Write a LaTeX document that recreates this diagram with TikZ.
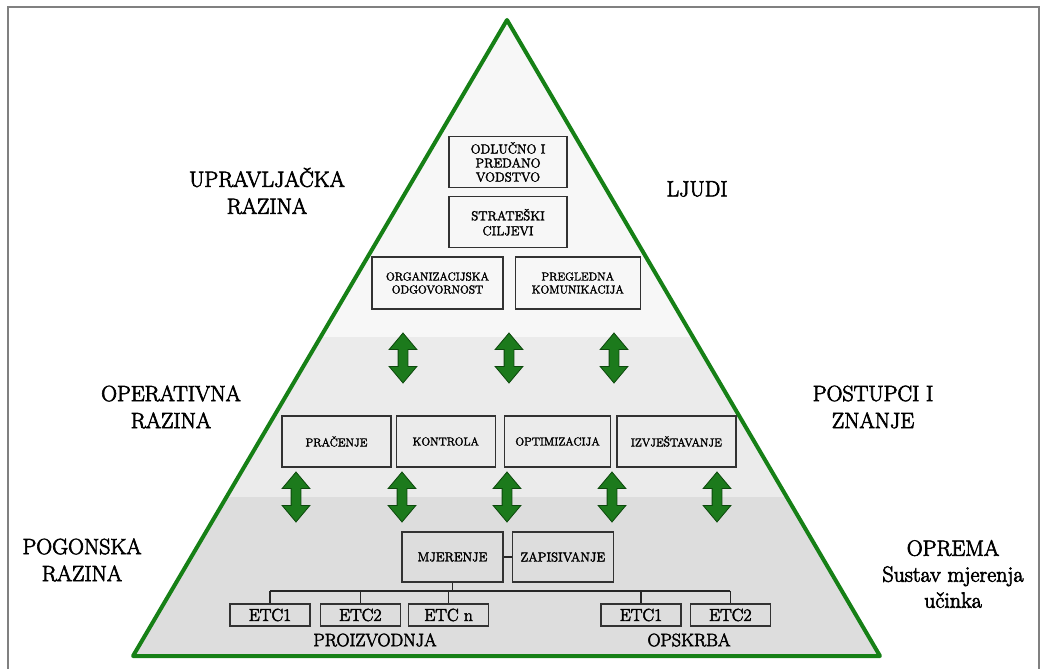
\documentclass[tikz,border=0pt]{standalone}
\usepackage{fontspec}
\newfontfamily\tezak{Latin Modern Roman}[FakeBold=3]
\newfontfamily\srednji{Latin Modern Roman}[FakeBold=2.5]
\usepackage{tikz}
\usetikzlibrary{positioning}
\usetikzlibrary{shapes.arrows}

\definecolor{zelena}{RGB}{22,128,22}
\definecolor{strelzel}{RGB}{28,122,28}
\definecolor{tamnozel}{RGB}{12,72,12}
\definecolor{okvir}{RGB}{128,128,128}
\definecolor{pojas1}{RGB}{247,247,247}
\definecolor{pojas2}{RGB}{235,235,235}
\definecolor{pojas3}{RGB}{221,221,221}
\definecolor{rub}{RGB}{50,50,50}

\tikzset{x=1pt, y=-1pt, % one unit is one pixel, y runs downwards
kutija/.style={ % boxes inside the pyramid
draw=rub, line width=1.3pt,
align=center, inner sep=0pt,
font=\srednji\fontsize{11.5}{13}\selectfont},
etc/.style={ % small boxes of the bottom row
kutija, minimum width=80pt, minimum height=22pt,
font=\tezak\fontsize{17.5}{18}\selectfont},
razina/.style={ % labels beside the pyramid
align=center,
font=\tezak\fontsize{22}{27}\selectfont},
strelica/.style={ % green double arrows between levels
double arrow, rotate=90,
draw=tamnozel, fill=strelzel, line width=0.8pt,
minimum height=50pt, minimum width=27pt,
double arrow head extend=9pt, double arrow tip angle=80,
inner xsep=0pt, inner ysep=4.5pt},
veza/.style={ % thin connectors
draw=black!85, line width=1.2pt}}

\begin{document}
\begin{tikzpicture}
\useasboundingbox (0,0) rectangle (1041,669);
\clip (0,0) rectangle (1041,669);
\draw[okvir, line width=2pt] (8,7) rectangle (1039,700);

% pyramid with three bands
\coordinate (vrh) at (507,20);
\coordinate (lijevo) at (133,656);
\coordinate (desno) at (880,656);
\begin{scope}
\clip (vrh) -- (lijevo) -- (desno) -- cycle;
\fill[pojas1] (0,0) rectangle (1041,337);
\fill[pojas2] (0,337) rectangle (1041,497);
\fill[pojas3] (0,497) rectangle (1041,669);
\end{scope}
\draw[zelena, line width=4pt, line join=round] (vrh) -- (lijevo) -- (desno) -- cycle;

% labels
\node[razina] (upr) at (267,191) {UPRAVLJAČKA\\RAZINA};
\node[razina] (oper) at (171,407) {OPERATIVNA\\RAZINA};
\node[razina] (pog) at (82,560) {POGONSKA\\RAZINA};
\node[razina] (ljudi) at (697,189) {LJUDI};
\node[razina] (post) at (873,407) {POSTUPCI I\\ZNANJE};
\node[razina, font=\tezak\fontsize{22}{26}\selectfont] (opr) at (953,574) {OPREMA\\Sustav mjerenja\\učinka};

% top level
\node[kutija, minimum width=118pt, minimum height=51pt, font=\srednji\fontsize{13}{14}\selectfont] (odl) at (508,162) {ODLUČNO I\\PREDANO\\VODSTVO};
\node[kutija, minimum width=118pt, minimum height=51pt, font=\srednji\fontsize{13}{15}\selectfont, below=8pt of odl] (strat) {STRATEŠKI\\CILJEVI};
\node[kutija, minimum width=131pt, minimum height=52pt] (org) at (437.5,283) {ORGANIZACIJSKA\\ODGOVORNOST};
\node[kutija, minimum width=125pt, minimum height=52pt, right=11pt of org] (preg) {PREGLEDNA\\KOMUNIKACIJA};

% operative level
\node[kutija, minimum width=109pt, minimum height=51pt] (prac) at (336.5,441.5) {PRAČENJE};
\node[kutija, minimum width=99pt, minimum height=51pt, right=4pt of prac] (kont) {KONTROLA};
\node[kutija, minimum width=106pt, minimum height=51pt, right=8pt of kont] (opt) {OPTIMIZACIJA};
\node[kutija, minimum width=119pt, minimum height=51pt, right=5pt of opt] (izv) {IZVJEŠTAVANJE};

% plant level
\node[kutija, minimum width=101pt, minimum height=50pt, font=\srednji\fontsize{13}{14}\selectfont] (mjer) at (452.5,557) {MJERENJE};
\node[kutija, minimum width=101pt, minimum height=50pt, font=\srednji\fontsize{13}{14}\selectfont, right=8pt of mjer] (zap) {ZAPISIVANJE};
\draw[veza] (mjer) -- (zap);

\node[etc] (p1) at (270,615) {ETC1};
\node[etc, right=9pt of p1] (p2) {ETC2};
\node[etc, right=7pt of p2] (pn) {ETC n};
\node[etc] (o1) at (641,615) {ETC1};
\node[etc, right=8pt of o1] (o2) {ETC2};
\node[font=\tezak\fontsize{18}{20}\selectfont] (proiz) at (375,640) {PROIZVODNJA};
\node[font=\tezak\fontsize{18}{20}\selectfont] (opskrba) at (689,640) {OPSKRBA};

\coordinate (sabirnica) at (0,591);
\draw[veza] (mjer.south) -- (mjer.south |- sabirnica);
\draw[veza] (p1.north |- sabirnica) -- (o2.north |- sabirnica);
\foreach \k in {p1,p2,pn,o1,o2}
  \draw[veza] (\k.north |- sabirnica) -- (\k.north);

% arrows between levels
\foreach \x [count=\i] in {403,509,614}
  \node[strelica] (gs\i) at (\x,358) {};
\foreach \x [count=\i] in {296,402,507,612,717}
  \node[strelica] (ds\i) at (\x,497) {};
\end{tikzpicture}
\end{document}
